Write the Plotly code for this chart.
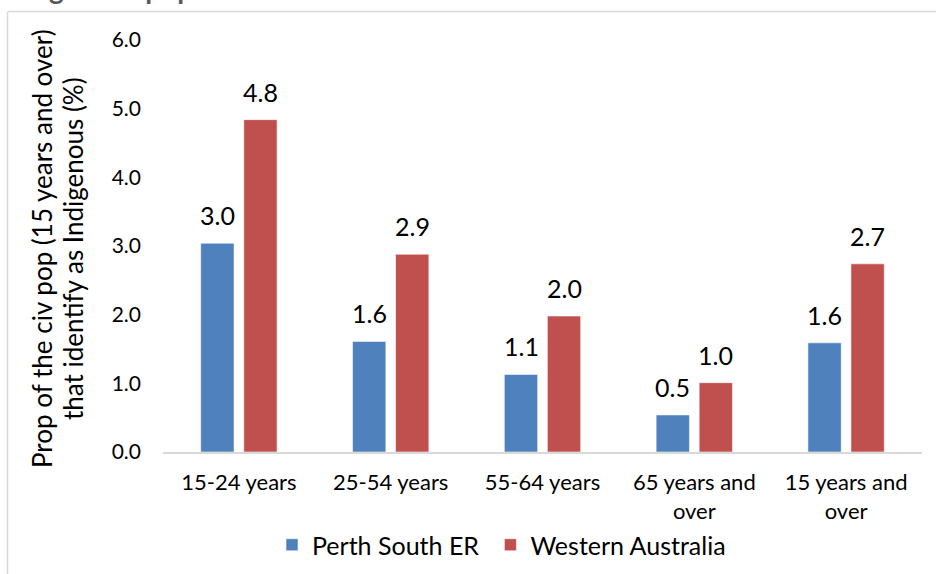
import plotly.graph_objects as go

# Age groups shown along the x axis
categories = ["15-24 years", "25-54 years", "55-64 years",
              "65 years and<br>over", "15 years and<br>over"]

# Share of the civilian population (15+) identifying as Indigenous, %
perth_south_er = [3.04, 1.61, 1.13, 0.54, 1.59]
western_australia = [4.84, 2.88, 1.98, 1.01, 2.74]

series_names = ["Perth South ER", "Western Australia"]
series_colors = ["#4F81BD", "#C0504D"]
y_ticks = [0, 1, 2, 3, 4, 5, 6]
y_title_lines = ["Prop of the civ pop (15 years and over)",
                 "that identify as Indigenous (%)"]

FONT = "Lato, 'Open Sans', sans-serif"
W, H = 936, 574
L, R, T, B = 163, 14, 40, 122
plot_w = W - L - R
plot_h = H - T - B


def px_x(x):
    return (x - L) / plot_w


def px_y(y):
    return (H - B - y) / plot_h


# a little trailing padding widens the gap between the two legend entries
legend_pad = ["\u00a0", ""]

fig = go.Figure()
for name, pad, vals, col in zip(series_names, legend_pad,
                                [perth_south_er, western_australia], series_colors):
    fig.add_trace(go.Bar(
        x=categories, y=vals, name=name + pad,
        marker=dict(color=col, line=dict(color="rgba(255,255,255,0.55)", width=1)),
        hovertemplate=name + "<br>%{x}: %{y:.1f}<extra></extra>",
    ))

# value labels above each bar
annotations = []
group_half = 21.5
for vals, shift in [(perth_south_er, -group_half), (western_australia, group_half)]:
    for c, v in zip(categories, vals):
        annotations.append(dict(
            x=c, y=v, xref="x", yref="y", text=f"{v:.1f}", showarrow=False,
            xshift=shift, yshift=28, yanchor="middle",
            font=dict(family=FONT, size=25, color="#000000"),
        ))

# rotated y-axis title, one annotation per line
for line, xc in zip(y_title_lines, [42, 73]):
    annotations.append(dict(
        x=px_x(xc), y=px_y(249), xref="paper", yref="paper",
        xanchor="center", yanchor="middle", textangle=-90,
        text=line, showarrow=False,
        font=dict(family=FONT, size=26, color="#000000"),
    ))

# heading running above the chart frame
annotations.append(dict(
    x=px_x(0), y=px_y(7), xref="paper", yref="paper", xanchor="left", yanchor="bottom",
    text="<b>Indigenous population</b>", showarrow=False,
    font=dict(family=FONT, size=28, color="#595959"),
))

shapes = [
    dict(type="line", xref="paper", yref="paper", x0=px_x(8), x1=px_x(940),
         y0=px_y(11.5), y1=px_y(11.5), line=dict(color="#D9D9D9", width=1.5)),
    dict(type="line", xref="paper", yref="paper", x0=px_x(7.5), x1=px_x(7.5),
         y0=px_y(11.5), y1=px_y(580), line=dict(color="#D9D9D9", width=1.5)),
]

fig.update_layout(
    width=W, height=H,
    margin=dict(l=L, r=R, t=T, b=B, autoexpand=False),
    paper_bgcolor="white", plot_bgcolor="white",
    font=dict(family=FONT, size=21, color="#000000"),
    barmode="group", bargap=0.433, bargroupgap=0.226,
    showlegend=True,
    legend=dict(orientation="h", x=px_x(272), xanchor="left", y=px_y(545), yanchor="middle",
                font=dict(family=FONT, size=25), bgcolor="rgba(0,0,0,0)",
                itemclick=False, itemdoubleclick=False),
    annotations=annotations,
    shapes=shapes,
    xaxis=dict(showline=True, linecolor="#D9D9D9", linewidth=1.5, showgrid=False,
               ticks="", ticklabelstandoff=10,
               tickfont=dict(family=FONT, size=22), fixedrange=True),
    yaxis=dict(range=[0, 6], tickvals=y_ticks, tickformat=".1f", showgrid=False,
               showline=False, zeroline=False, ticks="", ticklabelstandoff=21,
               tickfont=dict(family=FONT, size=21), fixedrange=True),
)

fig.write_html("out.html")
